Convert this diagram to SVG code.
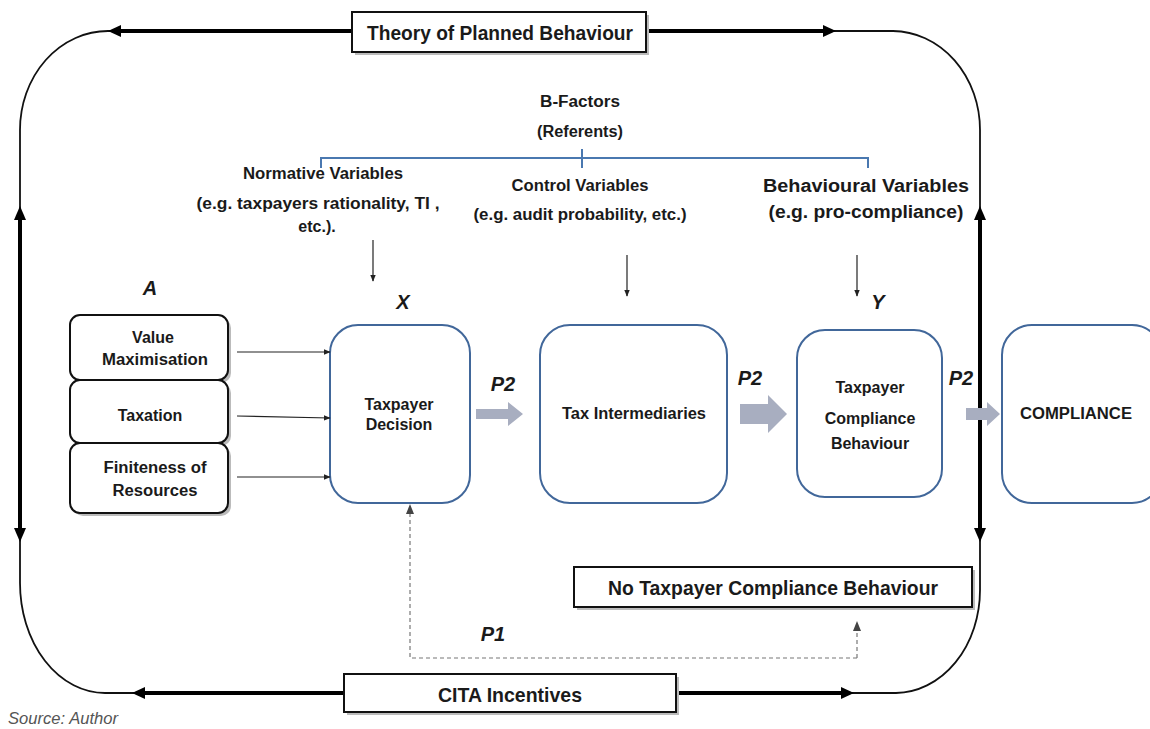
<svg xmlns="http://www.w3.org/2000/svg" width="1150" height="729" viewBox="0 0 1150 729">
<defs>
<style>
text{font-family:"Liberation Sans Narrow","Liberation Sans",Arial,sans-serif;font-weight:bold;fill:#1a1a1a;text-anchor:middle;dominant-baseline:central}
.big{font-size:21px}
.mid{font-size:16px}
.lbl{font-size:20px;font-style:italic}
.beh{font-family:"Liberation Sans",Arial,sans-serif;font-size:18px}
.node{fill:#fff;stroke:#41679a;stroke-width:2}
.lbox{fill:#fff;stroke:#111;stroke-width:2}
.shadow{fill:#bbb}
.thin{fill:none;stroke:#111;stroke-width:1.8}
.thick{fill:none;stroke:#000;stroke-width:4}
.ah{fill:#000}
.conn{fill:none;stroke:#222;stroke-width:1.2}
.dash{fill:none;stroke:#777;stroke-width:1.2;stroke-dasharray:4 3}
.blk{fill:#a8aec0}
.brk{fill:none;stroke:#4a78b0;stroke-width:2}
</style>
<marker id="arr" viewBox="0 0 10 10" refX="9" refY="5" markerWidth="7" markerHeight="7" orient="auto" markerUnits="userSpaceOnUse">
<path d="M0,1 L10,5 L0,9 Z" fill="#222"/>
</marker>
</defs>

<g id="loop">
<path class="thin" d="M108,31 H893 A88,99 0 0 1 980,130 V590 A85,103 0 0 1 896,693 H105 A85,110 0 0 1 20,583 V130 A88,99 0 0 1 108,31 Z"/>
<line class="thick" x1="118" y1="31" x2="826" y2="31"/>
<polygon class="ah" points="108,31 121,25 121,37"/>
<polygon class="ah" points="836,31 823,25 823,37"/>
<line class="thick" x1="20" y1="217" x2="20" y2="530"/>
<polygon class="ah" points="20,206 14,220 26,220"/>
<polygon class="ah" points="20,542 14,528 26,528"/>
<line class="thick" x1="980" y1="217" x2="980" y2="530"/>
<polygon class="ah" points="980,206 974,220 986,220"/>
<polygon class="ah" points="980,542 974,528 986,528"/>
<line class="thick" x1="143" y1="693" x2="842" y2="693"/>
<polygon class="ah" points="132,693 145,687 145,699"/>
<polygon class="ah" points="854,693 841,687 841,699"/>
</g>

<g id="tpb">
<rect x="355" y="15" width="294" height="40" class="shadow"/>
<rect x="352" y="12" width="294" height="40" class="lbox"/>
<text x="500" y="32" class="big" textLength="266" lengthAdjust="spacingAndGlyphs">Theory of Planned Behaviour</text>
</g>

<g id="cita">
<rect x="347" y="677" width="332" height="38" class="shadow"/>
<rect x="344" y="674" width="332" height="38" class="lbox"/>
<text x="510" y="694" class="big" textLength="144" lengthAdjust="spacingAndGlyphs">CITA Incentives</text>
</g>

<g id="bfactors">
<text x="580" y="101" class="mid" textLength="80" lengthAdjust="spacingAndGlyphs">B-Factors</text>
<text x="580" y="131" class="mid" textLength="86" lengthAdjust="spacingAndGlyphs">(Referents)</text>
<path class="brk" d="M321,168 V158 H868 V168 M582,149 V168"/>
</g>

<g id="normative">
<text x="323" y="173" class="mid" textLength="160" lengthAdjust="spacingAndGlyphs">Normative Variables</text>
<text x="318" y="203" class="mid" textLength="243" lengthAdjust="spacingAndGlyphs">(e.g. taxpayers  rationality, TI ,</text>
<text x="317" y="226" class="mid">etc.).</text>
</g>

<g id="control">
<text x="580" y="185" class="mid" textLength="137" lengthAdjust="spacingAndGlyphs">Control Variables</text>
<text x="580" y="214" class="mid" textLength="213" lengthAdjust="spacingAndGlyphs">(e.g. audit probability, etc.)</text>
</g>

<g id="behavioural">
<text x="866" y="186" class="beh" textLength="206" lengthAdjust="spacingAndGlyphs">Behavioural  Variables</text>
<text x="866" y="212" class="beh" textLength="195" lengthAdjust="spacingAndGlyphs">(e.g. pro-compliance)</text>
</g>

<g id="labels">
<text x="150" y="288" class="lbl">A</text>
<text x="403" y="302" class="lbl">X</text>
<text x="878" y="302" class="lbl">Y</text>
<text x="503" y="384" class="lbl">P2</text>
<text x="750" y="378" class="lbl">P2</text>
<text x="961" y="378" class="lbl">P2</text>
<text x="493" y="634" class="lbl">P1</text>
</g>

<g id="value-max">
<rect x="73" y="318" width="158" height="65" rx="10" class="shadow"/>
<rect x="70" y="315" width="158" height="65" rx="10" class="lbox"/>
<text x="153" y="337" class="mid">Value</text>
<text x="155" y="359" class="mid" textLength="106" lengthAdjust="spacingAndGlyphs">Maximisation</text>
</g>
<g id="taxation">
<rect x="73" y="383" width="158" height="63" rx="10" class="shadow"/>
<rect x="70" y="380" width="158" height="63" rx="10" class="lbox"/>
<text x="150" y="415" class="mid">Taxation</text>
</g>
<g id="finiteness">
<rect x="73" y="446" width="158" height="70" rx="10" class="shadow"/>
<rect x="70" y="443" width="158" height="70" rx="10" class="lbox"/>
<text x="155" y="467" class="mid" textLength="103" lengthAdjust="spacingAndGlyphs">Finiteness of</text>
<text x="155" y="490" class="mid" textLength="85" lengthAdjust="spacingAndGlyphs">Resources</text>
</g>

<g id="taxpayer-decision">
<rect x="330" y="325" width="140" height="178" rx="28" class="node"/>
<text x="399" y="404" class="mid">Taxpayer</text>
<text x="399" y="424" class="mid">Decision</text>
</g>

<g id="tax-intermediaries">
<rect x="540" y="325" width="187" height="178" rx="30" class="node"/>
<text x="634" y="413" class="mid" textLength="144" lengthAdjust="spacingAndGlyphs">Tax Intermediaries</text>
</g>

<g id="compliance-behaviour">
<rect x="797" y="330" width="145" height="167" rx="28" class="node"/>
<text x="870" y="387" class="mid">Taxpayer</text>
<text x="870" y="418" class="mid">Compliance</text>
<text x="870" y="443" class="mid">Behaviour</text>
</g>

<g id="compliance">
<rect x="1002" y="325" width="160" height="178" rx="30" class="node"/>
<text x="1076" y="413" class="mid" textLength="112" lengthAdjust="spacingAndGlyphs">COMPLIANCE</text>
</g>

<g id="no-compliance">
<rect x="577" y="570" width="398" height="40" class="shadow"/>
<rect x="574" y="567" width="398" height="40" class="lbox"/>
<text x="773" y="587" class="big" textLength="330" lengthAdjust="spacingAndGlyphs">No Taxpayer Compliance Behaviour</text>
</g>

<g id="connectors">
<line class="conn" x1="373" y1="240" x2="373" y2="281" marker-end="url(#arr)"/>
<line class="conn" x1="627" y1="255" x2="627" y2="296" marker-end="url(#arr)"/>
<line class="conn" x1="857" y1="255" x2="857" y2="296" marker-end="url(#arr)"/>
<line class="conn" x1="237" y1="352" x2="330" y2="352" marker-end="url(#arr)"/>
<line class="conn" x1="237" y1="416" x2="330" y2="418" marker-end="url(#arr)"/>
<line class="conn" x1="237" y1="477" x2="330" y2="477" marker-end="url(#arr)"/>
<path class="dash" d="M857,658 H410 V512"/>
<polygon points="410,504 406,514 414,514" fill="#444"/>
<path class="dash" d="M857,658 V630"/>
<polygon points="857,621 853,631 861,631" fill="#444"/>
<polygon class="blk" points="476,409 508,409 508,402 523,414 508,426 508,419 476,419"/>
<polygon class="blk" points="740,404 768,404 768,395 787,414 768,433 768,424 740,424"/>
<polygon class="blk" points="966,408 987,408 987,402 1000,414 987,426 987,420 966,420"/>
</g>

<text x="8" y="718" style="font-weight:normal;font-style:italic;font-size:16px;fill:#555;text-anchor:start" textLength="110" lengthAdjust="spacingAndGlyphs">Source: Author</text>
</svg>
